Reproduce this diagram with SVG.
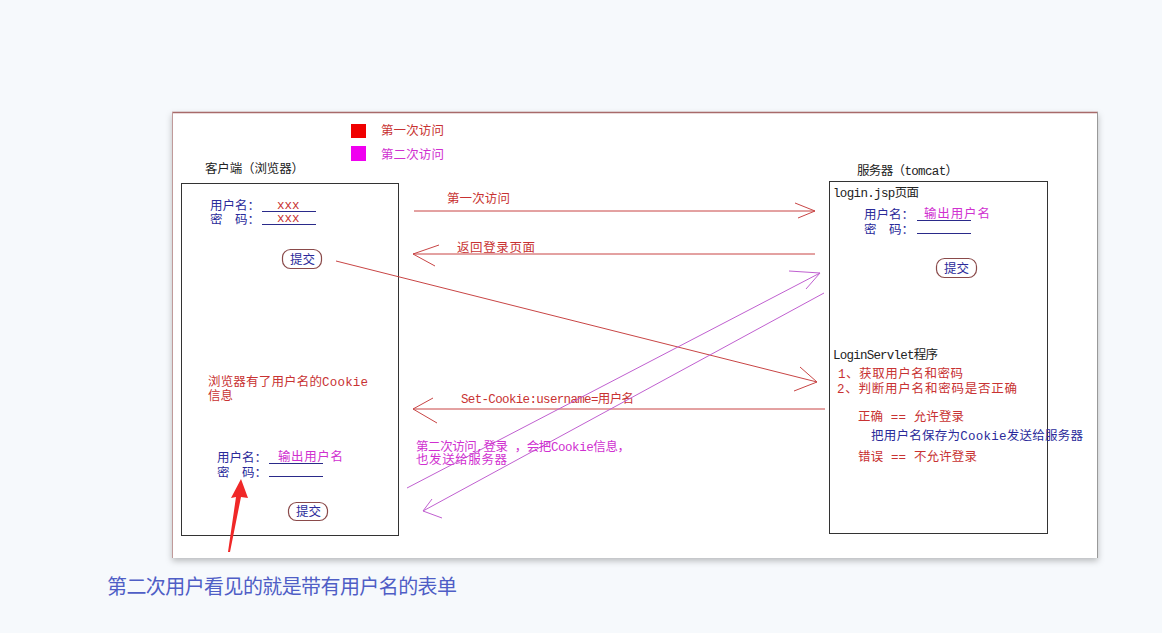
<svg xmlns="http://www.w3.org/2000/svg" width="1162" height="633" viewBox="0 0 1162 633">
<defs>
<filter id="sh" x="-5%" y="-5%" width="110%" height="115%">
<feDropShadow dx="0" dy="3" stdDeviation="3" flood-color="#000" flood-opacity="0.25"/>
</filter>
<style>
text{font-family:"Liberation Mono","Noto Sans CJK SC",monospace;font-size:12.5px}
.blk{fill:#222}
.red{fill:#c83232}
.blu{fill:#2a2a9a}
.mag{fill:#d030d0}
.ln{fill:none;stroke-width:1}
.rl{stroke:#c84545}
.ml{stroke:#c060d0}
.ul{stroke:#2a2a8a;stroke-width:1}
.box{fill:#fff;stroke:#333;stroke-width:1}
.btn{fill:#fff;stroke:#8a4a4a;stroke-width:1.2}
</style>
</defs>
<rect x="0" y="0" width="1162" height="633" fill="#f6f9fc"/>
<g id="frame">
<rect x="172" y="112" width="926" height="446" fill="#fff" filter="url(#sh)"/>
<line x1="172" y1="112.5" x2="1098" y2="112.5" stroke="#a86a6a" stroke-width="1.5"/>
<line x1="172.5" y1="112" x2="172.5" y2="558" stroke="#c09a9a" stroke-width="1"/>
<line x1="1097.5" y1="112" x2="1097.5" y2="558" stroke="#999" stroke-width="1"/>
</g>
<g id="legend">
<rect x="351" y="124" width="15" height="14" fill="#f00000"/>
<text x="381" y="135" class="red" textLength="63">第一次访问</text>
<rect x="351" y="146" width="15" height="15" fill="#f000f0"/>
<text x="381" y="159" class="mag" textLength="63">第二次访问</text>
</g>
<g id="client">
<text x="205" y="173" class="blk" textLength="99">客户端（浏览器）</text>
<rect x="181.5" y="183.5" width="217" height="352" class="box"/>
<text x="210" y="210" class="blu">用户名：</text>
<line x1="262" y1="211.5" x2="316" y2="211.5" class="ul"/>
<text x="277" y="209" class="red" font-size="12">xxx</text>
<text x="210" y="224" class="blu">密　码：</text>
<line x1="262" y1="224.5" x2="316" y2="224.5" class="ul"/>
<text x="277" y="222" class="red" font-size="12">xxx</text>
<rect x="282.5" y="249.5" width="39" height="19" rx="8" class="btn"/>
<text x="290" y="264" class="blu">提交</text>
<text x="208" y="386" class="red" textLength="160">浏览器有了用户名的Cookie</text>
<text x="208" y="400" class="red">信息</text>
<text x="217" y="462" class="blu">用户名：</text>
<line x1="269" y1="463.5" x2="323" y2="463.5" class="ul"/>
<text x="278" y="461" class="mag" textLength="65">输出用户名</text>
<text x="217" y="477" class="blu">密　码：</text>
<line x1="269" y1="476.5" x2="323" y2="476.5" class="ul"/>
<rect x="288.5" y="502.5" width="39" height="18" rx="8" class="btn"/>
<text x="296" y="516" class="blu">提交</text>
</g>
<g id="server">
<text x="857" y="175" class="blk" textLength="101">服务器（tomcat）</text>
<rect x="829.5" y="181.5" width="218" height="352" class="box"/>
<text x="833" y="197" class="blk" textLength="86">login.jsp页面</text>
<text x="864" y="219" class="blu">用户名：</text>
<line x1="917" y1="220.5" x2="971" y2="220.5" class="ul"/>
<text x="924" y="218" class="mag" textLength="66">输出用户名</text>
<text x="864" y="234" class="blu">密　码：</text>
<line x1="917" y1="233.5" x2="971" y2="233.5" class="ul"/>
<rect x="936.5" y="258.5" width="40" height="19" rx="8" class="btn"/>
<text x="944" y="273" class="blu">提交</text>
<text x="833" y="359" class="blk" textLength="105">LoginServlet程序</text>
<text x="838" y="378" class="red" textLength="125">1、获取用户名和密码</text>
<text x="837" y="393" class="red" textLength="180">2、判断用户名和密码是否正确</text>
<text x="858" y="421" class="red" textLength="106">正确 == 允许登录</text>
<text x="871" y="440" class="blu" textLength="212">把用户名保存为Cookie发送给服务器</text>
<text x="858" y="461" class="red" textLength="119">错误 == 不允许登录</text>
</g>
<g id="connectors">
<line x1="414" y1="211" x2="815" y2="211" class="ln rl"/>
<polyline points="795,203 815,211 798,218" class="ln rl"/>
<text x="447" y="203" class="red" textLength="63">第一次访问</text>
<line x1="413" y1="254" x2="815" y2="254" class="ln rl"/>
<polyline points="439,245 413,254 435,266" class="ln rl"/>
<text x="457" y="252" class="red" textLength="78">返回登录页面</text>
<line x1="336" y1="261" x2="817" y2="382" class="ln rl"/>
<polyline points="800,367 817,382 794,391" class="ln rl"/>
<line x1="413" y1="409" x2="825" y2="409" class="ln rl"/>
<polyline points="433,398 413,409 437,423" class="ln rl"/>
<text x="461" y="403" class="red" textLength="173">Set-Cookie:username=用户名</text>
<line x1="407" y1="488" x2="820" y2="273" class="ln ml"/>
<polyline points="789,271 820,273 806,289" class="ln ml"/>
<line x1="824" y1="293" x2="423" y2="511" class="ln ml"/>
<polyline points="432,499 423,511 442,518" class="ln ml"/>
<text x="416" y="451" class="mag" textLength="214">第二次访问,登录 ，会把Cookie信息，</text>
<text x="416" y="464" class="mag" textLength="91">也发送给服务器</text>
</g>
<g id="annotation">
<polygon points="241,479 248,498 241,497 230,552 228,552 236,497 231,498" fill="#f02828"/>
</g>
<g id="caption">
<text x="107" y="594" fill="#4f5ec6" style="font-family:'Noto Sans CJK SC','Noto Sans',sans-serif;font-size:20px" textLength="350">第二次用户看见的就是带有用户名的表单</text>
</g>
</svg>
